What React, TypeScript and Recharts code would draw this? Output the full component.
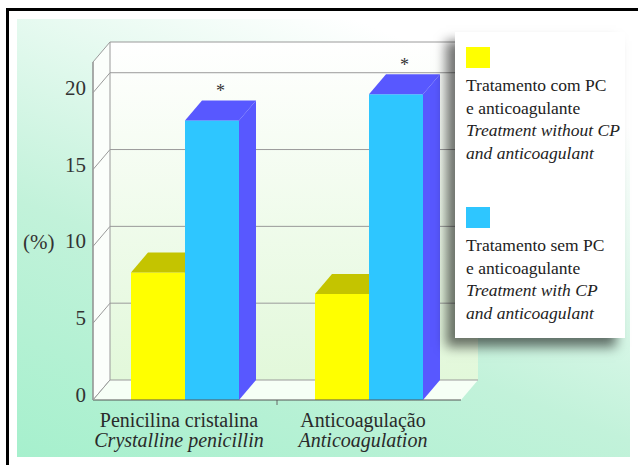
import { BarChart, Bar, XAxis, YAxis, CartesianGrid, Legend, LabelList } from 'recharts';

const categoriesPt = ['Penicilina cristalina', 'Anticoagulação'];
const categoriesEn = ['Crystalline penicillin', 'Anticoagulation'];
const withoutCp = [8.3, 6.9];
const withCp = [18.2, 19.9];
const marks = ['*', '*'];
const yTicks = [0, 5, 10, 15, 20];
const yMax = 22;

const legendPt = ['Tratamento com PC', 'Tratamento sem PC'];
const legendPt2 = ['e anticoagulante', 'e anticoagulante'];
const legendEn = ['Treatment without CP', 'Treatment with CP'];
const legendEn2 = ['and anticoagulant', 'and anticoagulant'];

const W = 638;
const H = 465;
const margin = { top: 62, right: 177, bottom: 0, left: 0 };
const Y_W = 93;
const X_H = 65;
const DX = 17;
const DY = 20;
const PL = margin.left + Y_W;
const PR = W - margin.right;
const PT = margin.top;
const PB = H - X_H;
const FONT = '"Liberation Serif", "Times New Roman", serif';

const data = categoriesPt.map((c, i) => ({
  cat: c,
  en: categoriesEn[i],
  a: withoutCp[i],
  b: withCp[i],
  mark: marks[i],
}));

const Box3D = (props: any) => {
  const { x, y, width: w, height: h, fill, topColor, sideColor } = props;
  if (w == null || h == null) return null;
  return (
    <g>
      <rect x={x} y={y} width={w} height={h} fill={fill} />
      <polygon points={`${x},${y} ${x + DX},${y - DY} ${x + w + DX},${y - DY} ${x + w},${y}`} fill={topColor} />
      <polygon points={`${x + w},${y} ${x + w + DX},${y - DY} ${x + w + DX},${y + h - DY} ${x + w},${y + h}`} fill={sideColor} />
    </g>
  );
};

const YTick = ({ y, payload }: any) => (
  <g>
    <line x1={PL} y1={y} x2={PL + DX} y2={y - DY} stroke="#9a9a9a" />
    <text x={PL - 7} y={y - 5} textAnchor="end" dominantBaseline="central" fontFamily={FONT} fontSize={21} fill="#333">
      {payload.value}
    </text>
  </g>
);

const XTick = ({ x, y, payload, index }: any) => (
  <g>
    <text x={x - 6} y={y + 27} textAnchor="middle" fontFamily={FONT} fontSize={20} fill="#2a2a2a">{payload.value}</text>
    <text x={x - 6} y={y + 47} textAnchor="middle" fontFamily={FONT} fontSize={20} fontStyle="italic" fill="#2a2a2a">{categoriesEn[index]}</text>
  </g>
);

const Star = (props: any) => {
  const { x, y, width, value } = props;
  if (!value) return null;
  return (
    <text x={x + width / 2 + DX / 2} y={y - DY - 3} textAnchor="middle" fontFamily={FONT} fontSize={18} fill="#333">{value}</text>
  );
};

const LegendBox = ({ payload }: any) => (
  <div style={{
    width: 170, height: 306, background: '#fff', boxSizing: 'border-box',
    boxShadow: '-9px 9px 11px rgba(0,0,0,0.55)', padding: '15px 0 0 11px',
    fontFamily: FONT, fontSize: 17.5, lineHeight: '22.5px', color: '#222', whiteSpace: 'nowrap',
  }}>
    {(payload || []).map((p: any, i: number) => (
      <div key={i} style={{ marginTop: i ? 43 : 0 }}>
        <div style={{ width: 24, height: 21, background: p.color, marginBottom: 6 }} />
        <div>{legendPt[i]}</div>
        <div>{legendPt2[i]}</div>
        <div style={{ fontStyle: 'italic' }}>{legendEn[i]}</div>
        <div style={{ fontStyle: 'italic' }}>{legendEn2[i]}</div>
      </div>
    ))}
  </div>
);

export default function App() {
  return (
    <div style={{ position: 'absolute', left: 0, top: 0, width: W, height: H, background: '#fff' }}>
      <svg width={W} height={H} style={{ position: 'absolute', left: 0, top: 0 }}>
        <defs>
          <linearGradient id="panel" x1="0" y1="1" x2="0.55" y2="0">
            <stop offset="0" stopColor="#a6f0cd" />
            <stop offset="0.45" stopColor="#c2f2da" />
            <stop offset="1" stopColor="#ffffff" />
          </linearGradient>
          <linearGradient id="wall" x1="0" y1="0" x2="0" y2="1">
            <stop offset="0" stopColor="#ffffff" />
            <stop offset="1" stopColor="#e2f8da" />
          </linearGradient>
        </defs>
        <rect x={7.5} y={9.5} width={700} height={500} fill="#fff" stroke="#000" strokeWidth={3} />
        <rect x={17} y={19} width={613} height={438} fill="url(#panel)" />
        <rect x={PL + DX} y={PT - DY} width={PR - PL} height={PB - PT} fill="url(#wall)" />
        <polygon points={`${PL},${PB} ${PL},${PT} ${PL + DX},${PT - DY} ${PL + DX},${PB - DY}`} fill="#fbfefb" stroke="#9a9a9a" />
        <polygon points={`${PL},${PB} ${PL + DX},${PB - DY} ${PR + DX},${PB - DY} ${PR},${PB}`} fill="#f6fff6" />
        <line x1={(PL + PR) / 2} y1={PB} x2={(PL + PR) / 2} y2={PB + 5} stroke="#666" />
        <text x={23} y={242} dominantBaseline="central" fontFamily={FONT} fontSize={21} fill="#333">(%)</text>
      </svg>
      <div style={{ position: 'absolute', left: 0, top: 0 }}>
        <BarChart width={W} height={H} data={data} margin={margin} barCategoryGap={38} barGap={0}>
          <CartesianGrid
            vertical={false}
            horizontal={(p: any) => (
              <line key={`h-${p.index}-${p.y1}`} x1={p.x1 + DX} y1={p.y1 - DY} x2={p.x2 + DX} y2={p.y2 - DY} stroke="#9a9a9a" />
            )}
          />
          <XAxis dataKey="cat" height={X_H} tick={<XTick />} tickLine={false} tickSize={0} tickMargin={0} stroke="#555" interval={0} />
          <YAxis width={Y_W} domain={[0, yMax]} ticks={yTicks} tick={<YTick />} tickLine={false} stroke="#8a8a8a" />
          <Legend layout="horizontal" verticalAlign="middle" align="center" content={<LegendBox />}
            wrapperStyle={{ left: 455, top: 32, width: 170, height: 306 }} />
          <Bar dataKey="a" name="Tratamento com PC" fill="#ffff00" isAnimationActive={false}
            shape={(p: any) => <Box3D {...p} topColor="#c4c400" sideColor="#a8a800" />} />
          <Bar dataKey="b" name="Tratamento sem PC" fill="#2ec6ff" isAnimationActive={false}
            shape={(p: any) => <Box3D {...p} topColor="#5858ff" sideColor="#5858ff" />}>
            <LabelList dataKey="mark" content={<Star />} />
          </Bar>
        </BarChart>
      </div>
    </div>
  );
}
